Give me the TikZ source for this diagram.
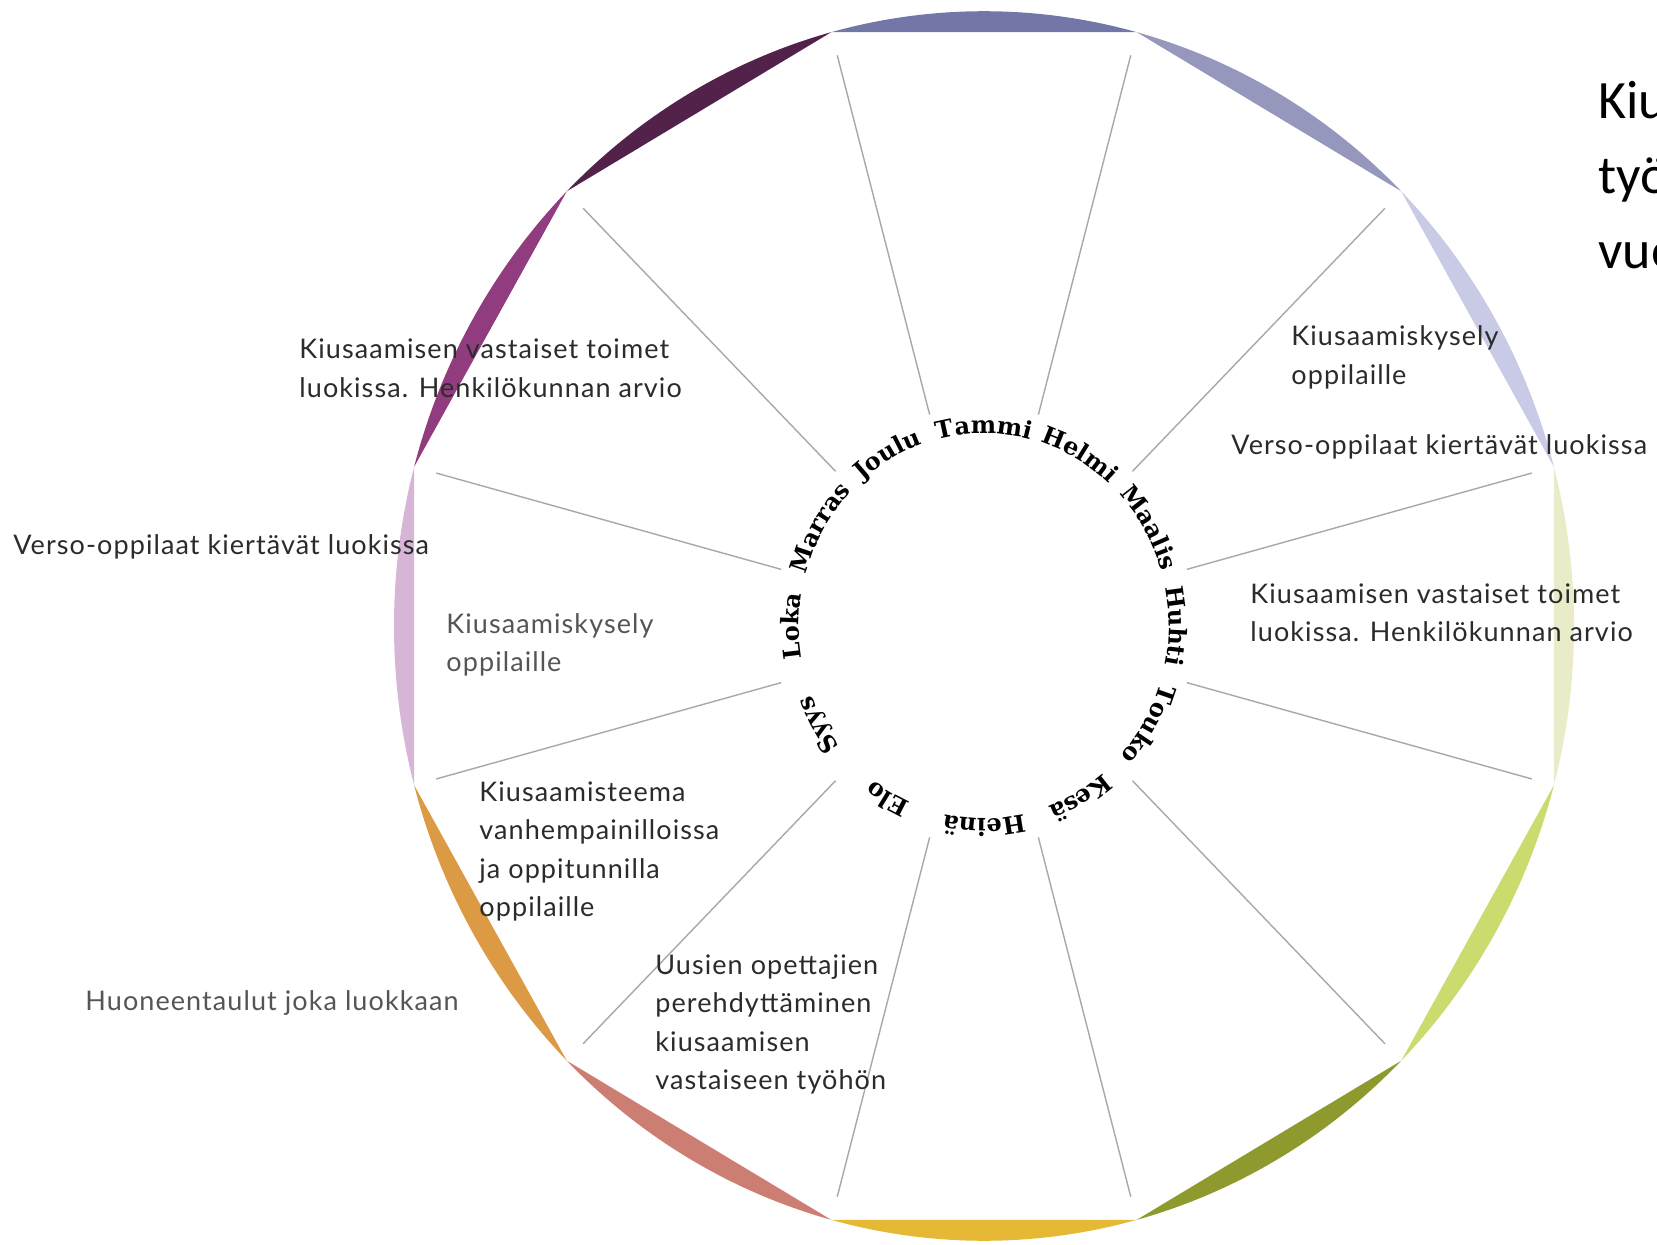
\documentclass[tikz,border=0pt]{standalone}
\usepackage{fontspec}
\setmainfont{Lato}
\newfontfamily\lblfam[LetterSpace=4]{Lato}
\newfontfamily\monthfont{DejaVu Serif}
\newfontfamily\titlefont{Carlito}
\usetikzlibrary{decorations.text}
\definecolor{cTammi}{HTML}{7277A8}
\definecolor{cHelmi}{HTML}{9597BD}
\definecolor{cMaalis}{HTML}{C9CAE5}
\definecolor{cHuhti}{HTML}{E9EBC9}
\definecolor{cTouko}{HTML}{CBDB6E}
\definecolor{cKesa}{HTML}{8E9A2E}
\definecolor{cHeina}{HTML}{E5B935}
\definecolor{cElo}{HTML}{CC7E72}
\definecolor{cSyys}{HTML}{DC9A44}
\definecolor{cLoka}{HTML}{D7B5D6}
\definecolor{cMarras}{HTML}{923C80}
\definecolor{cJoulu}{HTML}{52224A}
\definecolor{spokegray}{HTML}{A8A8A8}
\definecolor{lbldark}{HTML}{2B2B2B}
\definecolor{lbllight}{HTML}{555555}
\newcommand\monthsty{\monthfont\bfseries\fontsize{12}{14}\selectfont}
\newcommand\lblfont{\lblfam\fontsize{13.5}{19.25}\selectfont}
\newcommand\lines[1]{\begin{tabular}[t]{@{}l@{}}#1\end{tabular}}
\newcommand\monthlabel[2]{\path[decorate,decoration={text along path,text format delimiters={|}{|},text={|\monthsty|#2},text align=center}] (#1+25:185) arc[start angle=#1+25,end angle=#1-25,radius=185];}
\tikzset{
  lbl/.style={anchor=base west, font=\lblfont, text=lbldark, inner sep=0pt},
  lbllt/.style={lbl, text=lbllight},
  spoke/.style={draw=spokegray, line width=0.7pt},
}
\begin{document}
\begin{tikzpicture}[x=0.5pt,y=0.5pt]
\useasboundingbox (0,0) rectangle (1657,-1245);
\clip (0,0) rectangle (1657,-1245);
\fill[white] (0,0) rectangle (1657,-1245);
\begin{scope}[shift={(984,-626)}, yscale=1.042]
  \foreach \a/\c in {90/cTammi,60/cHelmi,30/cMaalis,0/cHuhti,-30/cTouko,-60/cKesa,-90/cHeina,-120/cElo,-150/cSyys,180/cLoka,150/cMarras,120/cJoulu}{
    \fill[\c] (\a+15:590) arc[start angle=\a+15, end angle=\a-15, radius=590] -- cycle;
  }
  \foreach \a in {15,45,...,345}{
    \draw[spoke] (\a:210) -- (\a:567);
  }
  \monthlabel{90}{Tammi}
  \monthlabel{60}{Helmi}
  \monthlabel{30}{Maalis}
  \monthlabel{0}{Huhti}
  \monthlabel{-30}{Touko}
  \monthlabel{-60}{Kesä}
  \monthlabel{-90}{Heinä}
  \monthlabel{-120}{Elo}
  \monthlabel{-150}{Syys}
  \monthlabel{180}{Loka}
  \monthlabel{150}{Marras}
  \monthlabel{120}{Joulu}
\end{scope}
\node[lbl] (t1) at (299,-359) {\lines{Kiusaamisen vastaiset toimet\\luokissa. Henkilökunnan arvio}};
\node[lbl] (t2) at (1291,-346) {\lines{Kiusaamiskysely\\oppilaille}};
\node[lbl] (t3) at (1231,-454) {Verso-oppilaat kiertävät luokissa};
\node[lbl] (t4) at (13,-554) {Verso-oppilaat kiertävät luokissa};
\node[lbllt] (t5) at (446,-633) {\lines{Kiusaamiskysely\\oppilaille}};
\node[lbl] (t6) at (1250,-603) {\lines{Kiusaamisen vastaiset toimet\\luokissa. Henkilökunnan arvio}};
\node[lbl] (t7) at (479,-801) {\lines{Kiusaamisteema\\vanhempainilloissa\\ja oppitunnilla\\oppilaille}};
\node[lbllt] (t8) at (85,-1010) {Huoneentaulut joka luokkaan};
\node[lbl] (t9) at (655,-974) {\lines{Uusien opettajien\\perehdyttäminen\\kiusaamisen\\vastaiseen työhön}};
\node[anchor=base west, inner sep=0pt, font=\titlefont\fontsize{27}{37.5}\selectfont] (title) at (1598,-119) {\lines{Kiusaamisen vastaisen\\työn\\vuosikello}};
\end{tikzpicture}
\end{document}
